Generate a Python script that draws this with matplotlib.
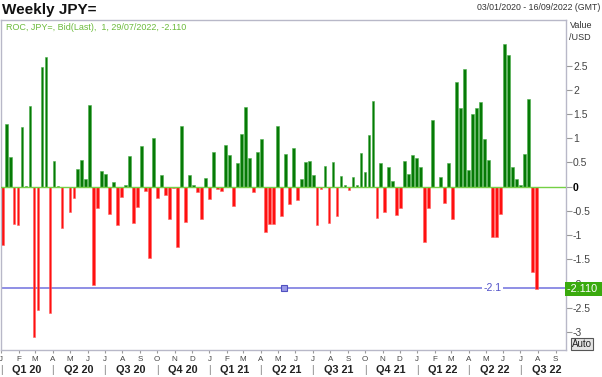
import numpy as np
import pandas as pd
import matplotlib
matplotlib.use('Agg')
import matplotlib.pyplot as plt
import matplotlib.dates as mdates
import matplotlib.transforms as mtransforms

plt.rcParams['font.family'] = ['Liberation Sans', 'DejaVu Sans']
plt.rcParams['axes.unicode_minus'] = False

# weekly rate of change of JPY=, first bar 03/01/2020, last bar 29/07/2022
first_week = '2020-01-03'
roc = [
    -1.20, 1.29, 0.62, -0.78, -0.80, 1.24, 0.02, 1.66, -3.11, -2.54,
    2.47, 2.67, -2.61, 0.52, 0.02, -0.86, 0.00, -0.52, -0.24, 0.36,
    0.55, 0.16, 1.68, -2.03, -0.43, 0.32, 0.27, -0.56, 0.10, -0.80,
    -0.21, 0.04, 0.64, -0.74, -0.41, 0.85, -0.08, -1.48, 1.00, -0.24,
    0.24, -0.17, -0.67, -0.03, -1.24, 1.25, -0.73, 0.24, 0.03, -0.11,
    -0.67, 0.17, -0.26, 0.71, -0.04, -0.08, 0.87, 0.65, -0.39, 0.48,
    1.09, 1.65, 0.60, -0.11, 0.71, 0.98, -0.94, -0.78, -0.77, 1.25,
    -0.60, 0.68, -0.35, 0.80, -0.27, 0.15, 0.50, 0.54, 0.25, -0.80,
    -0.04, 0.43, -0.74, 0.50, -0.60, 0.22, 0.03, -0.06, 0.19, 0.04,
    0.70, 0.31, 1.06, 1.77, -0.64, 0.48, -0.52, 0.40, 0.11, -0.58,
    -0.43, 0.52, 0.26, 0.65, 0.60, 0.41, -1.15, -0.43, 1.37, -0.01,
    0.19, -0.34, 0.48, -0.67, 2.17, 1.62, 2.43, 0.35, 1.50, 1.63,
    1.75, 0.98, 0.56, -1.04, -1.03, -0.56, 2.94, 2.72, 0.41, 0.16,
    0.03, 0.67, 1.80, -1.77, -2.11,
]
last_value = -2.110
line_level = -2.1
y_ticks = [2.5, 2, 1.5, 1, 0.5, 0, -0.5, -1, -1.5, -2, -2.5, -3]
month_letters = ['J', 'F', 'M', 'A', 'M', 'J', 'J', 'A', 'S', 'O', 'N', 'D']
quarter_names = ['Q1 20', 'Q2 20', 'Q3 20', 'Q4 20', 'Q1 21', 'Q2 21',
                 'Q3 21', 'Q4 21', 'Q1 22', 'Q2 22', 'Q3 22']
range_start = '2020-01-01 19:00'
range_end = '2022-09-19'

weeks = pd.date_range(first_week, periods=len(roc), freq='7D')
x = mdates.date2num(weeks)
vals = np.array(roc)
colors = np.where(vals >= 0, '#067a06', '#ff1010')
edges = np.where(vals >= 0, '#4caf4c', '#ff6060')

fig = plt.figure(figsize=(6.02, 3.77), dpi=100)
ax = fig.add_axes([1 / 602, 1 - 350 / 377, 565 / 602, 330 / 377])

ax.bar(x, vals, width=0.7 * 7, color=colors, edgecolor=edges, linewidth=0.4,
       zorder=2)
ax.axhline(0, color='#74d044', lw=1, zorder=3)
ax.axhline(line_level, color='#7c7ce0', lw=1.2, zorder=1)

ax.set_xlim(mdates.date2num(pd.Timestamp(range_start)),
            mdates.date2num(pd.Timestamp(range_end)))
ax.set_ylim(-3.37, 3.44)

for s in ax.spines.values():
    s.set_color('#b8b8c8')
    s.set_linewidth(1)

# y axis on the right
ax.yaxis.tick_right()
ax.set_yticks(y_ticks)
ax.set_yticklabels(['%g' % v for v in y_ticks])
ax.tick_params(axis='y', length=4, color='#999999', labelsize=7.5,
               labelcolor='#444444', pad=1)
for lab, v in zip(ax.get_yticklabels(), y_ticks):
    if v == 0:
        lab.set_fontweight('bold')
        lab.set_color('black')

# month letters
months = pd.date_range('2020-01-01', '2022-09-01', freq='MS')
ax.set_xticks(mdates.date2num(months))
ax.set_xticklabels([month_letters[m.month - 1] for m in months])
ax.tick_params(axis='x', length=2.5, color='#999999', labelsize=5.8,
               labelcolor='#444444', pad=1.5)

# quarter labels under the months
trans = mtransforms.blended_transform_factory(ax.transData, ax.transAxes)
qstarts = pd.date_range('2020-01-01', periods=len(quarter_names) + 1, freq='QS')
for i, name in enumerate(quarter_names):
    a = mdates.date2num(qstarts[i])
    b = mdates.date2num(qstarts[i + 1])
    ax.text(a, -0.062, '|', transform=trans, ha='center', va='center',
            fontsize=7.5, color='#888888')
    ax.text((a + b) / 2, -0.062, name, transform=trans, ha='center',
            va='center', fontsize=7.8, fontweight='bold', color='#222222')

# -2.1 line marker and label
htrans = mtransforms.blended_transform_factory(ax.transAxes, ax.transData)
ax.plot([0.5], [line_level], 's', transform=htrans, ms=4,
        mfc='#9a9ae8', mec='#5050c0', mew=0.8, zorder=4)
ax.text(0.87, line_level, '-2.1', transform=htrans, ha='center', va='center',
        fontsize=7.5, color='#5050c8', zorder=4,
        bbox=dict(boxstyle='square,pad=0.15', fc='white', ec='none'))

# last value box on the right axis
ax.text(1.002, last_value, '-2.110  ', transform=htrans, ha='left', va='center',
        fontsize=7.8, color='white', clip_on=False, zorder=5,
        bbox=dict(boxstyle='square,pad=0.2', fc='#3aaa0e', ec='none'))

fig.text(2 / 602, 1 - 10 / 377, 'Weekly JPY=', fontsize=11, fontweight='bold',
         va='center', ha='left', color='#111111')
fig.text(600 / 602, 1 - 7.5 / 377, '03/01/2020 - 16/09/2022 (GMT)',
         fontsize=6.3, ha='right', va='center', color='#333333')
fig.text(6 / 602, 1 - 27 / 377, 'ROC, JPY=, Bid(Last),  1, 29/07/2022, -2.110',
         fontsize=6.5, ha='left', va='center', color='#6cbb3c')
fig.text(570 / 602, 1 - 25 / 377, 'Value', fontsize=6.5, ha='left',
         va='center', color='#333333')
fig.text(569 / 602, 1 - 38 / 377, '/USD', fontsize=6.5, ha='left',
         va='center', color='#333333')
fig.text(582 / 602, 1 - 344 / 377, 'Auto', fontsize=7, ha='center',
         va='center', color='#222222',
         bbox=dict(boxstyle='square,pad=0.12', fc='#e4e4e4', ec='#555555', lw=0.8))

fig.savefig('out.png', dpi=100)
